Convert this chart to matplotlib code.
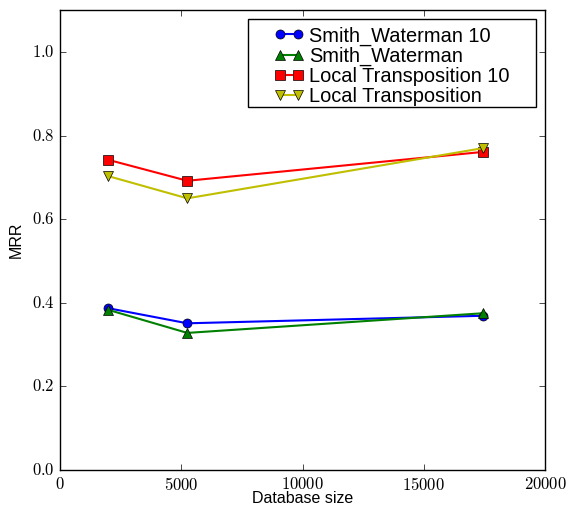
import matplotlib
matplotlib.use("Agg")
import matplotlib.pyplot as plt
from matplotlib.patches import Rectangle
from matplotlib.ticker import FuncFormatter

plt.style.use("classic")
plt.rcParams["mathtext.fontset"] = "cm"
plt.rcParams["font.family"] = ["Liberation Sans", "DejaVu Sans"]

# data
db_size = [2000, 5250, 17430]
sw10 = [0.387, 0.351, 0.369]
sw = [0.383, 0.328, 0.375]
lt10 = [0.742, 0.692, 0.761]
lt = [0.703, 0.650, 0.770]

fig = plt.figure(figsize=(5.68, 5.08), dpi=100)
fig.patch.set_facecolor("white")
ax = fig.add_axes([0.1056, 0.0748, 0.854, 0.905])

ax.plot(db_size, sw10, "b-o", lw=1.5, ms=6.5, label="Smith_Waterman 10")
ax.plot(db_size, sw, "g-^", lw=1.5, ms=6.5, label="Smith_Waterman")
ax.plot(db_size, lt10, "r-s", lw=1.5, ms=6.5, label="Local Transposition 10")
ax.plot(db_size, lt, "y-v", lw=1.5, ms=6.5, label="Local Transposition")

ax.set_xlim(0, 20000)
ax.set_ylim(0, 1.1)
ax.set_xticks([0, 5000, 10000, 15000, 20000])
ax.set_yticks([0.0, 0.2, 0.4, 0.6, 0.8, 1.0])
ax.xaxis.set_major_formatter(FuncFormatter(lambda v, p: r"$%d$" % v))
ax.yaxis.set_major_formatter(FuncFormatter(lambda v, p: r"$%.1f$" % v))
ax.tick_params(labelsize=12)

ax.set_xlabel("Database size", fontsize=11.5, labelpad=-1)
ax.set_ylabel("MRR", fontsize=11.5, labelpad=6)

# legend without its own frame, box drawn separately (wide side padding)
leg = ax.legend(loc="center", numpoints=2, fontsize=14.4, labelspacing=0.05,
                handlelength=1.5, handletextpad=0.25, borderpad=0.0,
                frameon=False, bbox_to_anchor=(0.690, 0.870),
                bbox_transform=fig.transFigure)
fig.patches.append(Rectangle((0.4366, 0.7894), 0.507, 0.1732,
                             transform=fig.transFigure, fill=False,
                             ec="black", lw=1.0, zorder=10))

fig.savefig("out.png", dpi=100, facecolor="white")
